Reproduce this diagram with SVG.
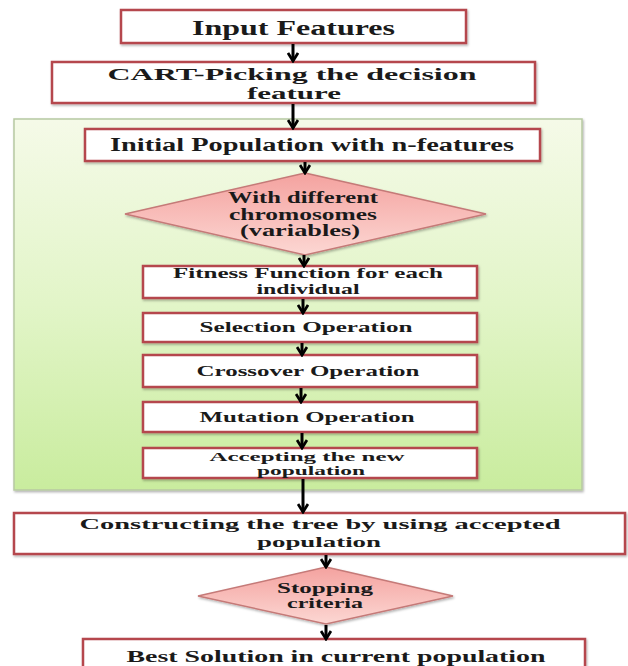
<svg xmlns="http://www.w3.org/2000/svg" width="628" height="666" viewBox="0 0 628 666">
  <defs>
    <linearGradient id="greenGrad" x1="0" y1="0" x2="0" y2="1">
      <stop offset="0" stop-color="#f5fae8"/>
      <stop offset="0.5" stop-color="#e2f5c8"/>
      <stop offset="1" stop-color="#c9ec9e"/>
    </linearGradient>
    <linearGradient id="pinkGrad" x1="0" y1="0" x2="0" y2="1">
      <stop offset="0" stop-color="#f4a29f"/>
      <stop offset="1" stop-color="#fcd7d3"/>
    </linearGradient>
    <filter id="shadow" x="-5%" y="-10%" width="110%" height="130%">
      <feDropShadow dx="1" dy="1.5" stdDeviation="1.2" flood-color="#000" flood-opacity="0.3"/>
    </filter>
    <marker id="arrow" viewBox="0 0 12 12" refX="10" refY="6" markerWidth="12" markerHeight="12" markerUnits="userSpaceOnUse" orient="auto">
      <path d="M2,1 L10,6 L2,11" fill="none" stroke="#000" stroke-width="2.8" stroke-linejoin="miter"/>
    </marker>
  </defs>
  <style>
    .box { fill: #ffffff; stroke: #b5464e; stroke-width: 2.5; filter: url(#shadow); }
    .dia { fill: url(#pinkGrad); stroke: #c57a78; stroke-width: 1.5; filter: url(#shadow); }
    .t { font-family: "Liberation Serif", "Times New Roman", serif; font-weight: bold; fill: #1a1a1a; text-anchor: middle; }
    .conn { stroke: #000; stroke-width: 3; fill: none; marker-end: url(#arrow); }
  </style>
  <rect width="628" height="666" fill="#ffffff"/>

  <g id="container">
    <rect x="14" y="119" width="568" height="371" fill="url(#greenGrad)" stroke="#b7c9a2" stroke-width="1.5" filter="url(#shadow)"/>
  </g>

  <g id="input-features">
    <rect class="box" x="121" y="10" width="345" height="33"/>
    <text class="t" x="293.5" y="35" font-size="20" textLength="203" lengthAdjust="spacingAndGlyphs">Input Features</text>
  </g>

  <g id="cart">
    <rect class="box" x="52" y="62" width="483" height="41"/>
    <text class="t" x="292" y="80" font-size="17" textLength="369" lengthAdjust="spacingAndGlyphs">CART-Picking the decision</text>
    <text class="t" x="294" y="99" font-size="17" textLength="94" lengthAdjust="spacingAndGlyphs">feature</text>
  </g>

  <g id="initial-population">
    <rect class="box" x="85" y="129" width="455" height="32"/>
    <text class="t" x="312" y="151" font-size="18" textLength="404" lengthAdjust="spacingAndGlyphs">Initial Population with n-features</text>
  </g>

  <g id="chromosomes">
    <polygon class="dia" points="305,173 486,214 305,255 125,214"/>
    <text class="t" x="303" y="203" font-size="16" textLength="150" lengthAdjust="spacingAndGlyphs">With different</text>
    <text class="t" x="303" y="220" font-size="16" textLength="148" lengthAdjust="spacingAndGlyphs">chromosomes</text>
    <text class="t" x="300" y="236" font-size="16" textLength="120" lengthAdjust="spacingAndGlyphs">(variables)</text>
  </g>

  <g id="fitness">
    <rect class="box" x="143" y="266" width="334" height="32"/>
    <text class="t" x="308" y="278" font-size="14" textLength="270" lengthAdjust="spacingAndGlyphs">Fitness Function for each</text>
    <text class="t" x="308" y="294" font-size="14" textLength="103" lengthAdjust="spacingAndGlyphs">individual</text>
  </g>

  <g id="selection">
    <rect class="box" x="143" y="313" width="334" height="29"/>
    <text class="t" x="306" y="332" font-size="15" textLength="213" lengthAdjust="spacingAndGlyphs">Selection Operation</text>
  </g>

  <g id="crossover">
    <rect class="box" x="143" y="355" width="334" height="32"/>
    <text class="t" x="308" y="376" font-size="15" textLength="223" lengthAdjust="spacingAndGlyphs">Crossover Operation</text>
  </g>

  <g id="mutation">
    <rect class="box" x="143" y="402" width="334" height="30"/>
    <text class="t" x="307" y="422" font-size="15" textLength="215" lengthAdjust="spacingAndGlyphs">Mutation Operation</text>
  </g>

  <g id="accepting">
    <rect class="box" x="143" y="448" width="334" height="30"/>
    <text class="t" x="307" y="461" font-size="13" textLength="195" lengthAdjust="spacingAndGlyphs">Accepting the new</text>
    <text class="t" x="311" y="475" font-size="13" textLength="108" lengthAdjust="spacingAndGlyphs">population</text>
  </g>

  <g id="constructing">
    <rect class="box" x="14" y="513" width="611" height="41"/>
    <text class="t" x="320" y="529" font-size="15" textLength="481" lengthAdjust="spacingAndGlyphs">Constructing the tree by using accepted</text>
    <text class="t" x="319" y="547" font-size="15" textLength="124" lengthAdjust="spacingAndGlyphs">population</text>
  </g>

  <g id="stopping">
    <polygon class="dia" points="326,567 453,596 326,624 198,596"/>
    <text class="t" x="325" y="593" font-size="15" textLength="96" lengthAdjust="spacingAndGlyphs">Stopping</text>
    <text class="t" x="325" y="608" font-size="15" textLength="76" lengthAdjust="spacingAndGlyphs">criteria</text>
  </g>

  <g id="best-solution">
    <rect class="box" x="83" y="639" width="502" height="34"/>
    <text class="t" x="336" y="662" font-size="17" textLength="419" lengthAdjust="spacingAndGlyphs">Best Solution in current population</text>
  </g>

  <g id="connectors">
    <line class="conn" x1="293" y1="44" x2="293" y2="61"/>
    <line class="conn" x1="293" y1="104" x2="293" y2="128"/>
    <line class="conn" x1="305" y1="162" x2="305" y2="173"/>
    <line class="conn" x1="304" y1="255" x2="304" y2="266"/>
    <line class="conn" x1="303" y1="299" x2="303" y2="313"/>
    <line class="conn" x1="302" y1="343" x2="302" y2="355"/>
    <line class="conn" x1="301" y1="388" x2="301" y2="402"/>
    <line class="conn" x1="302" y1="433" x2="302" y2="448"/>
    <line class="conn" x1="303" y1="479" x2="303" y2="512"/>
    <line class="conn" x1="326" y1="555" x2="326" y2="567"/>
    <line class="conn" x1="326" y1="625" x2="326" y2="639"/>
  </g>
</svg>
